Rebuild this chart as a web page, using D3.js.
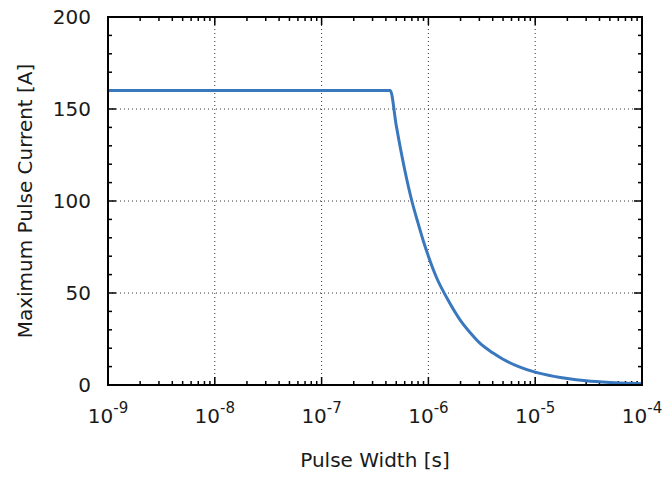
<!DOCTYPE html>
<html>
<head>
<meta charset="utf-8">
<script src="https://cdn.jsdelivr.net/npm/d3@7"></script>
<style>
  body { margin: 0; background: #fff; }
  text { font-family: "DejaVu Sans", sans-serif; fill: #1a1a1a; }
</style>
</head>
<body>
<div class="pulseplot"></div>
<script>
// values
var pulseWidth = [1e-9, 4.4e-7, 5e-7, 6e-7, 7e-7, 8e-7, 9e-7, 1e-6, 1.2e-6, 1.5e-6, 2e-6, 2.5e-6, 3e-6, 4e-6, 5e-6, 7e-6, 1e-5, 1.5e-5, 2e-5, 3e-5, 5e-5, 7e-5, 1e-4];
var maxCurrent = [160, 160, 141, 117, 100, 88, 78, 70, 58, 47, 35, 28, 23, 17.5, 14, 10, 7, 4.7, 3.5, 2.3, 1.4, 1, 0.7];
var xTickExp = [-9, -8, -7, -6, -5, -4];
var yTicks = [0, 50, 100, 150, 200];

var margin = {top: 17, right: 27, bottom: 93, left: 108},
    width = 669 - margin.left - margin.right,
    height = 478 - margin.top - margin.bottom;

var svg = d3.select(".pulseplot")
  .append("svg")
  .attr("width", width + margin.left + margin.right)
  .attr("height", height + margin.top + margin.bottom)
  .append("g")
  .attr("transform", "translate(" + margin.left + "," + margin.top + ")");

var x = d3.scaleLog().domain([1e-9, 1e-4]).range([0, width]);
var y = d3.scaleLinear().domain([0, 200]).range([height, 0]);

var majorX = xTickExp.map(function(e) { return Math.pow(10, e); });
var minorX = [];
xTickExp.slice(0, -1).forEach(function(e) {
  for (var k = 2; k <= 9; k++) minorX.push(k * Math.pow(10, e));
});
var minorY = d3.range(10, 200, 10).filter(function(v) { return v % 50 != 0; });

// grid
svg.selectAll(".gx").data(majorX.slice(1, -1)).enter().append("line")
  .attr("x1", function(d) { return x(d); }).attr("x2", function(d) { return x(d); })
  .attr("y1", 0).attr("y2", height)
  .attr("stroke", "#333").attr("stroke-width", 1).attr("stroke-dasharray", "1,3");
svg.selectAll(".gy").data(yTicks.slice(1, -1)).enter().append("line")
  .attr("y1", function(d) { return y(d); }).attr("y2", function(d) { return y(d); })
  .attr("x1", 0).attr("x2", width)
  .attr("stroke", "#333").attr("stroke-width", 1).attr("stroke-dasharray", "1,3");

// ticks on all four sides, pointing inward
function ticksX(vals, len) {
  [height, 0].forEach(function(base) {
    var dir = base == 0 ? 1 : -1;
    svg.selectAll(null).data(vals).enter().append("line")
      .attr("x1", function(d) { return x(d); }).attr("x2", function(d) { return x(d); })
      .attr("y1", base).attr("y2", base + dir * len)
      .attr("stroke", "#000").attr("stroke-width", 1.5);
  });
}
function ticksY(vals, len) {
  [0, width].forEach(function(base) {
    var dir = base == 0 ? 1 : -1;
    svg.selectAll(null).data(vals).enter().append("line")
      .attr("y1", function(d) { return y(d); }).attr("y2", function(d) { return y(d); })
      .attr("x1", base).attr("x2", base + dir * len)
      .attr("stroke", "#000").attr("stroke-width", 1.5);
  });
}
ticksX(majorX, 8);
ticksX(minorX, 4);
ticksY(yTicks, 8);
ticksY(minorY, 4);

// data line
var line = d3.line()
  .x(function(d, i) { return x(pulseWidth[i]); })
  .y(function(d) { return y(d); })
  .curve(d3.curveMonotoneX);
svg.append("path")
  .datum(maxCurrent)
  .attr("d", line)
  .attr("fill", "none")
  .attr("stroke", "#3a78be")
  .attr("stroke-width", 3)
  .attr("stroke-linejoin", "round");

// frame
svg.append("rect")
  .attr("width", width).attr("height", height)
  .attr("fill", "none").attr("stroke", "#000").attr("stroke-width", 2);

// tick labels
svg.selectAll(".yl").data(yTicks).enter().append("text")
  .attr("x", -17).attr("y", function(d) { return y(d); })
  .attr("dy", "0.36em").attr("text-anchor", "end")
  .attr("font-size", "20px")
  .text(function(d) { return d; });

var xl = svg.selectAll(".xl").data(xTickExp).enter().append("text")
  .attr("x", function(d) { return x(Math.pow(10, d)); })
  .attr("y", height + 38)
  .attr("text-anchor", "middle")
  .attr("font-size", "20px");
xl.append("tspan").text("10");
xl.append("tspan").attr("dy", -10).attr("font-size", "15px").text(function(d) { return "-" + Math.abs(d); });

// axis titles
svg.append("text")
  .attr("text-anchor", "middle")
  .attr("x", width / 2)
  .attr("y", height + 82)
  .attr("font-size", "20px")
  .text("Pulse Width [s]");

svg.append("text")
  .attr("text-anchor", "middle")
  .attr("transform", "rotate(-90)")
  .attr("x", -height / 2)
  .attr("y", -76)
  .attr("font-size", "20px")
  .text("Maximum Pulse Current [A]");
</script>
</body>
</html>
